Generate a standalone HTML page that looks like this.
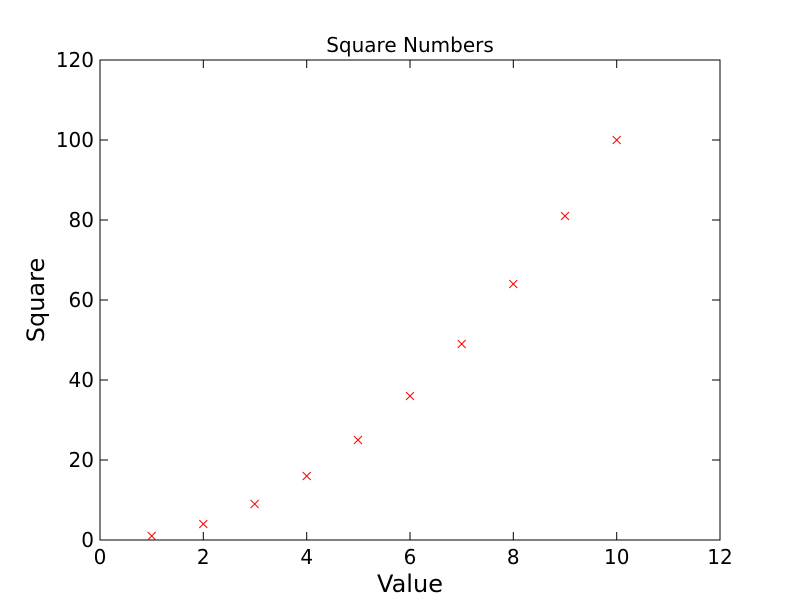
<!DOCTYPE html>
<html><head><style>body{margin:0;background:#fff}</style></head><body>
<svg width="800" height="600" xmlns="http://www.w3.org/2000/svg" font-family="DejaVu Sans, sans-serif">
<rect width="800" height="600" fill="#fff"/>
<rect x="100" y="60" width="620" height="480" fill="none" stroke="#000" stroke-width="1"/>
<g stroke="#000" stroke-width="1">
<line x1="100" y1="540" x2="100" y2="532"/><line x1="100" y1="60" x2="100" y2="68"/>
<line x1="203.3" y1="540" x2="203.3" y2="532"/><line x1="203.3" y1="60" x2="203.3" y2="68"/>
<line x1="306.7" y1="540" x2="306.7" y2="532"/><line x1="306.7" y1="60" x2="306.7" y2="68"/>
<line x1="410" y1="540" x2="410" y2="532"/><line x1="410" y1="60" x2="410" y2="68"/>
<line x1="513.3" y1="540" x2="513.3" y2="532"/><line x1="513.3" y1="60" x2="513.3" y2="68"/>
<line x1="616.7" y1="540" x2="616.7" y2="532"/><line x1="616.7" y1="60" x2="616.7" y2="68"/>
<line x1="100" y1="460" x2="108" y2="460"/><line x1="720" y1="460" x2="712" y2="460"/>
<line x1="100" y1="380" x2="108" y2="380"/><line x1="720" y1="380" x2="712" y2="380"/>
<line x1="100" y1="300" x2="108" y2="300"/><line x1="720" y1="300" x2="712" y2="300"/>
<line x1="100" y1="220" x2="108" y2="220"/><line x1="720" y1="220" x2="712" y2="220"/>
<line x1="100" y1="140" x2="108" y2="140"/><line x1="720" y1="140" x2="712" y2="140"/>
</g>
<g font-size="20" text-anchor="middle" fill="#000">
<text x="100" y="564">0</text><text x="203.3" y="564">2</text><text x="306.7" y="564">4</text>
<text x="410" y="564">6</text><text x="513.3" y="564">8</text><text x="616.7" y="564">10</text><text x="720" y="564">12</text>
</g>
<g font-size="20" text-anchor="end" fill="#000">
<text x="94" y="547">0</text><text x="94" y="467">20</text><text x="94" y="387">40</text>
<text x="94" y="307">60</text><text x="94" y="227">80</text><text x="94" y="147">100</text><text x="94" y="67">120</text>
</g>
<text x="410" y="52" font-size="20" text-anchor="middle">Square Numbers</text>
<text x="410" y="592" font-size="24" text-anchor="middle">Value</text>
<text transform="translate(44,300) rotate(-90)" font-size="24" text-anchor="middle">Square</text>
<g stroke="#f00" stroke-width="1">
<path d="M147.7 532l8 8m0 -8l-8 8"/>
<path d="M199.3 520l8 8m0 -8l-8 8"/>
<path d="M250.7 500l8 8m0 -8l-8 8"/>
<path d="M302.7 472l8 8m0 -8l-8 8"/>
<path d="M354 436l8 8m0 -8l-8 8"/>
<path d="M406 392l8 8m0 -8l-8 8"/>
<path d="M457.7 340l8 8m0 -8l-8 8"/>
<path d="M509.3 280l8 8m0 -8l-8 8"/>
<path d="M561 212l8 8m0 -8l-8 8"/>
<path d="M612.7 136l8 8m0 -8l-8 8"/>
</g>
</svg>
</body></html>
